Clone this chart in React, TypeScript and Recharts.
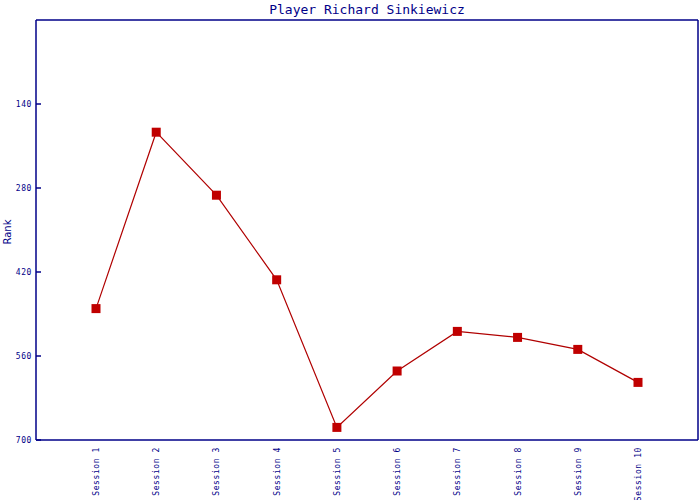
import { Label, Line, LineChart, XAxis, YAxis } from "recharts"

const sessions = ["Session 1", "Session 2", "Session 3", "Session 4", "Session 5", "Session 6", "Session 7", "Session 8", "Session 9", "Session 10"]
const ranks = [481, 187, 292, 433, 679, 585, 519, 529, 549, 604]
const rankTicks = [140, 280, 420, 560, 700]

const data = sessions.map((name, i) => ({ name, rank: ranks[i] }))

const NAVY = "#000088"
const MONO = "'DejaVu Sans Mono', monospace"

const SquareDot = (props: any) => {
    const { cx, cy } = props
    if (cx == null || cy == null) return null
    return <rect x={cx - 4.5} y={cy - 4.5} width={9} height={9} fill="#c00000" />
}

const YTick = (props: any) => {
    const { x, y, payload } = props
    return (
        <g>
            <line x1={x + 4} y1={y} x2={x + 9} y2={y} stroke={NAVY} strokeWidth={1.5} />
            <text x={x} y={y} dy={3} textAnchor="end" fontFamily={MONO} fontSize={8} letterSpacing={0.6} fill={NAVY}>
                {payload.value}
            </text>
        </g>
    )
}

const XTick = (props: any) => {
    const { x, payload } = props
    const y = 447
    return (
        <text
            x={x}
            y={y}
            dy={3}
            transform={`rotate(-90 ${x} ${y})`}
            textAnchor="end"
            fontFamily={MONO}
            fontSize={8}
            letterSpacing={0.6}
            fill={NAVY}
        >
            {payload.value}
        </text>
    )
}

export default function App() {
    return (
        <div style={{ position: "relative", width: 700, height: 500 }}>
            <style>{`body{margin:0}`}</style>
            <div
                style={{
                    position: "absolute",
                    top: 2,
                    left: 36,
                    width: 662,
                    textAlign: "center",
                    fontFamily: MONO,
                    fontSize: 13,
                    lineHeight: "16px",
                    color: NAVY,
                }}
            >
                Player Richard Sinkiewicz
            </div>
            <LineChart width={700} height={500} data={data} margin={{ top: 19, right: 0, left: 0, bottom: 0 }}>
                <XAxis
                    dataKey="name"
                    height={60}
                    padding={{ left: 60, right: 60 }}
                    tickLine={false}
                    axisLine={{ stroke: NAVY, strokeWidth: 1.5 }}
                    tick={<XTick />}
                    interval={0}
                />
                <XAxis
                    xAxisId="top"
                    orientation="top"
                    dataKey="name"
                    height={1}
                    tick={false}
                    tickLine={false}
                    axisLine={{ stroke: NAVY, strokeWidth: 1.5 }}
                />
                <YAxis
                    width={36}
                    domain={[0, 700]}
                    reversed
                    ticks={rankTicks}
                    tickSize={0}
                    tickMargin={4}
                    tickLine={false}
                    axisLine={{ stroke: NAVY, strokeWidth: 1.5 }}
                    tick={<YTick />}
                    interval={0}
                >
                    <Label
                        content={() => (
                            <text
                                x={11}
                                y={232}
                                transform="rotate(-90 11 232)"
                                textAnchor="middle"
                                fontFamily="'DejaVu Sans', sans-serif"
                                fontSize={10}
                                fill={NAVY}
                            >
                                Rank
                            </text>
                        )}
                    />
                </YAxis>
                <YAxis
                    yAxisId="right"
                    orientation="right"
                    width={2}
                    tick={false}
                    tickLine={false}
                    axisLine={{ stroke: NAVY, strokeWidth: 1.5 }}
                />
                <Line
                    dataKey="rank"
                    stroke="#b00000"
                    strokeWidth={1.2}
                    dot={<SquareDot />}
                    activeDot={false}
                    isAnimationActive={false}
                />
            </LineChart>
        </div>
    )
}
